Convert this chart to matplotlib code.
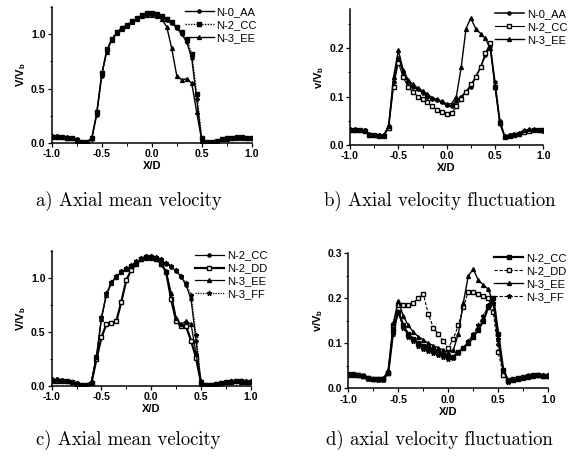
import matplotlib
matplotlib.use('Agg')
import matplotlib.pyplot as plt
from matplotlib.ticker import MultipleLocator, FormatStrFormatter

# X/D grid of the measurements
xd = [-1.0, -0.95, -0.9, -0.85, -0.8, -0.75, -0.7, -0.65, -0.6, -0.55, -0.5,
      -0.45, -0.4, -0.35, -0.3, -0.25, -0.2, -0.15, -0.1, -0.05, 0.0,
      0.05, 0.1, 0.15, 0.2, 0.25, 0.3, 0.35, 0.4, 0.45, 0.5,
      0.55, 0.6, 0.65, 0.7, 0.75, 0.8, 0.85, 0.9, 0.95, 1.0]

# a) axial mean velocity
a_AA = [0.06, 0.06, 0.055, 0.05, 0.045, 0.03, 0.01, 0.01, 0.03, 0.26, 0.62,
        0.85, 0.95, 1.01, 1.05, 1.08, 1.11, 1.14, 1.17, 1.19, 1.19,
        1.18, 1.16, 1.13, 1.10, 1.06, 1.00, 0.93, 0.78, 0.40, 0.02,
        0.01, 0.01, 0.02, 0.03, 0.04, 0.045, 0.045, 0.045, 0.04, 0.04]
a_CC = [0.05, 0.055, 0.05, 0.045, 0.04, 0.025, 0.01, 0.005, 0.04, 0.28, 0.64,
        0.86, 0.96, 1.02, 1.06, 1.09, 1.12, 1.15, 1.18, 1.20, 1.20,
        1.19, 1.17, 1.14, 1.11, 1.07, 1.02, 0.95, 0.82, 0.45, 0.04,
        0.01, 0.01, 0.02, 0.03, 0.04, 0.045, 0.05, 0.05, 0.045, 0.045]
a_EE = [0.06, 0.06, 0.05, 0.045, 0.04, 0.02, 0.01, 0.01, 0.04, 0.27, 0.63,
        0.84, 0.95, 1.01, 1.05, 1.08, 1.11, 1.14, 1.17, 1.18, 1.18,
        1.17, 1.14, 1.07, 0.87, 0.62, 0.58, 0.59, 0.55, 0.28, 0.02,
        0.01, 0.01, 0.02, 0.03, 0.035, 0.04, 0.04, 0.04, 0.04, 0.04]

# b) axial velocity fluctuation
b_AA = [0.032, 0.032, 0.03, 0.03, 0.022, 0.02, 0.02, 0.02, 0.04, 0.13, 0.18,
        0.15, 0.13, 0.12, 0.115, 0.108, 0.10, 0.095, 0.092, 0.088, 0.082,
        0.08, 0.09, 0.10, 0.11, 0.12, 0.14, 0.16, 0.185, 0.205, 0.13,
        0.05, 0.018, 0.02, 0.02, 0.022, 0.028, 0.03, 0.03, 0.03, 0.028]
b_CC = [0.03, 0.03, 0.03, 0.028, 0.02, 0.02, 0.018, 0.018, 0.035, 0.12, 0.17,
        0.14, 0.12, 0.11, 0.10, 0.095, 0.088, 0.08, 0.072, 0.068, 0.064,
        0.065, 0.08, 0.095, 0.11, 0.125, 0.14, 0.16, 0.19, 0.21, 0.12,
        0.045, 0.016, 0.018, 0.02, 0.022, 0.026, 0.028, 0.03, 0.03, 0.03]
b_EE = [0.03, 0.03, 0.03, 0.03, 0.02, 0.02, 0.02, 0.02, 0.04, 0.14, 0.195,
        0.155, 0.135, 0.125, 0.118, 0.112, 0.105, 0.098, 0.094, 0.09, 0.085,
        0.085, 0.10, 0.16, 0.24, 0.262, 0.24, 0.23, 0.22, 0.20, 0.12,
        0.045, 0.018, 0.02, 0.022, 0.025, 0.03, 0.032, 0.032, 0.03, 0.03]

# c) axial mean velocity
c_CC = [0.06, 0.06, 0.055, 0.05, 0.04, 0.03, 0.01, 0.01, 0.04, 0.27, 0.63,
        0.85, 0.95, 1.01, 1.05, 1.08, 1.11, 1.14, 1.17, 1.19, 1.19,
        1.18, 1.16, 1.13, 1.10, 1.06, 1.01, 0.93, 0.80, 0.42, 0.02,
        0.01, 0.01, 0.02, 0.03, 0.04, 0.045, 0.045, 0.045, 0.04, 0.04]
c_DD = [0.05, 0.05, 0.05, 0.045, 0.04, 0.02, 0.01, 0.01, 0.03, 0.25, 0.45,
        0.57, 0.58, 0.60, 0.78, 0.98, 1.07, 1.13, 1.17, 1.19, 1.19,
        1.17, 1.13, 1.05, 0.80, 0.60, 0.55, 0.55, 0.42, 0.26, 0.03,
        0.01, 0.01, 0.02, 0.03, 0.04, 0.04, 0.045, 0.045, 0.04, 0.04]
c_EE = [0.06, 0.06, 0.055, 0.05, 0.04, 0.02, 0.01, 0.01, 0.04, 0.27, 0.62,
        0.84, 0.95, 1.01, 1.05, 1.08, 1.11, 1.14, 1.17, 1.18, 1.18,
        1.17, 1.13, 1.06, 0.86, 0.63, 0.57, 0.60, 0.57, 0.30, 0.02,
        0.01, 0.01, 0.02, 0.03, 0.04, 0.045, 0.045, 0.04, 0.04, 0.04]
c_FF = [0.05, 0.055, 0.05, 0.045, 0.04, 0.025, 0.01, 0.005, 0.04, 0.28, 0.64,
        0.86, 0.96, 1.02, 1.06, 1.09, 1.12, 1.15, 1.18, 1.20, 1.20,
        1.19, 1.17, 1.14, 1.11, 1.07, 1.02, 0.95, 0.84, 0.47, 0.05,
        0.01, 0.01, 0.02, 0.03, 0.04, 0.045, 0.05, 0.05, 0.045, 0.045]

# d) axial velocity fluctuation
d_CC = [0.032, 0.032, 0.03, 0.028, 0.022, 0.02, 0.02, 0.02, 0.035, 0.13, 0.17,
        0.14, 0.12, 0.11, 0.10, 0.095, 0.09, 0.085, 0.08, 0.075, 0.07,
        0.07, 0.08, 0.09, 0.10, 0.115, 0.13, 0.15, 0.18, 0.20, 0.12,
        0.04, 0.016, 0.018, 0.02, 0.022, 0.025, 0.028, 0.03, 0.028, 0.028]
d_DD = [0.03, 0.03, 0.03, 0.028, 0.022, 0.02, 0.02, 0.02, 0.035, 0.14, 0.185,
        0.185, 0.185, 0.19, 0.20, 0.21, 0.165, 0.135, 0.12, 0.105, 0.09,
        0.11, 0.14, 0.18, 0.215, 0.215, 0.21, 0.205, 0.20, 0.17, 0.08,
        0.03, 0.018, 0.02, 0.022, 0.025, 0.028, 0.03, 0.03, 0.028, 0.028]
d_EE = [0.032, 0.032, 0.03, 0.03, 0.022, 0.02, 0.02, 0.022, 0.04, 0.145, 0.195,
        0.16, 0.14, 0.125, 0.115, 0.108, 0.10, 0.095, 0.09, 0.085, 0.08,
        0.085, 0.12, 0.19, 0.25, 0.265, 0.24, 0.23, 0.22, 0.19, 0.10,
        0.04, 0.018, 0.02, 0.022, 0.025, 0.03, 0.03, 0.03, 0.03, 0.03]
d_FF = [0.03, 0.03, 0.03, 0.028, 0.02, 0.02, 0.018, 0.018, 0.035, 0.12, 0.17,
        0.135, 0.115, 0.105, 0.095, 0.088, 0.082, 0.078, 0.074, 0.07, 0.066,
        0.068, 0.078, 0.09, 0.105, 0.12, 0.14, 0.16, 0.185, 0.19, 0.11,
        0.04, 0.015, 0.018, 0.02, 0.022, 0.025, 0.028, 0.03, 0.03, 0.03]

captions = ['a) Axial mean velocity', 'b) Axial velocity fluctuation',
            'c) Axial mean velocity', 'd) axial velocity fluctuation']

tickfont = {'family': 'Liberation Sans', 'weight': 'bold', 'size': 7.5}


def style_axes(ax, ymax, ymajor, yminor, yfmt, ylabel):
    for s in ['top', 'right']:
        ax.spines[s].set_visible(False)
    for s in ['left', 'bottom']:
        ax.spines[s].set_linewidth(1.1)
    ax.set_xlim(-1.0, 1.0)
    ax.set_ylim(0.0, ymax)
    ax.xaxis.set_major_locator(MultipleLocator(0.5))
    ax.xaxis.set_minor_locator(MultipleLocator(0.25))
    ax.yaxis.set_major_locator(MultipleLocator(ymajor))
    ax.yaxis.set_minor_locator(MultipleLocator(yminor))
    ax.xaxis.set_major_formatter(FormatStrFormatter('%.1f'))
    ax.yaxis.set_major_formatter(FormatStrFormatter(yfmt))
    ax.tick_params(which='major', direction='out', length=3, width=0.9, pad=1.5)
    ax.tick_params(which='minor', direction='out', length=1.8, width=0.7)
    for lab in ax.get_xticklabels() + ax.get_yticklabels():
        lab.set_fontproperties(tickfont)
    ax.set_xlabel('X/D', fontfamily='Liberation Sans', fontweight='bold',
                  fontsize=8, labelpad=1.5)
    ax.set_ylabel(ylabel, fontfamily='Liberation Sans', fontweight='bold',
                  fontsize=8, labelpad=2)


def add_legend(ax, x0):
    ax.legend(loc='upper left', bbox_to_anchor=(x0, 1.0), borderaxespad=0,
              frameon=False, handlelength=2.6, handletextpad=0.25,
              labelspacing=0.25, borderpad=0,
              prop={'family': 'Liberation Sans', 'size': 8})


fig = plt.figure(figsize=(5.72, 4.57), dpi=100)

axa = fig.add_axes([0.0904, 0.6877, 0.3497, 0.2965])
axb = fig.add_axes([0.6119, 0.6827, 0.3380, 0.2970])
axc = fig.add_axes([0.0904, 0.1554, 0.3480, 0.2962])
axd = fig.add_axes([0.6089, 0.1503, 0.3497, 0.2954])

k = 'black'
ms = 2.3

# a
axa.plot(xd, a_AA, color=k, lw=1.0, marker='o', ms=ms, label='N-0_AA')
axa.plot(xd, a_CC, color=k, lw=1.0, ls=(0, (1, 1)), marker='s', ms=ms, label='N-2_CC')
axa.plot(xd, a_EE, color=k, lw=1.0, marker='^', ms=ms + 0.5, label='N-3_EE')
style_axes(axa, 1.25, 0.5, 0.25, '%.1f', 'V/V$_\\mathregular{b}$')
add_legend(axa, 0.665)

# b
axb.plot(xd, b_AA, color=k, lw=1.1, marker='o', ms=ms, label='N-0_AA')
axb.plot(xd, b_CC, color=k, lw=0.8, marker='s', ms=ms, mfc='white', label='N-2_CC')
axb.plot(xd, b_EE, color=k, lw=1.0, marker='^', ms=ms + 0.5, label='N-3_EE')
style_axes(axb, 0.28, 0.1, 0.05, '%.1f', 'v/V$_\\mathregular{b}$')
add_legend(axb, 0.75)

# c
axc.plot(xd, c_CC, color=k, lw=0.9, marker='o', ms=ms, label='N-2_CC')
axc.plot(xd, c_DD, color=k, lw=1.6, marker='s', ms=ms, mfc='white', label='N-2_DD')
axc.plot(xd, c_EE, color=k, lw=0.9, marker='^', ms=ms + 0.5, label='N-3_EE')
axc.plot(xd, c_FF, color=k, lw=0.9, ls=(0, (1, 1)), marker='*', ms=ms + 1.2, label='N-3_FF')
style_axes(axc, 1.25, 0.5, 0.25, '%.1f', 'V/V$_\\mathregular{b}$')
add_legend(axc, 0.72)

# d
axd.plot(xd, d_CC, color=k, lw=1.6, marker='s', ms=ms, label='N-2_CC')
axd.plot(xd, d_DD, color=k, lw=0.8, ls=(0, (3, 1.5)), marker='s', ms=ms, mfc='white', label='N-2_DD')
axd.plot(xd, d_EE, color=k, lw=1.0, marker='^', ms=ms + 0.5, label='N-3_EE')
axd.plot(xd, d_FF, color=k, lw=0.8, ls=(0, (3, 1.5)), marker='*', ms=ms + 1.2, label='N-3_FF')
style_axes(axd, 0.3, 0.1, 0.05, '%.1f', 'v/V$_\\mathregular{b}$')
add_legend(axd, 0.73)

# captions under each panel
cap_pos = [(0.225, 0.560), (0.768, 0.560), (0.225, 0.037), (0.768, 0.037)]
for (cx, cy), txt in zip(cap_pos, captions):
    fig.text(cx, cy, txt, fontfamily='cmr10', fontsize=13.5, ha='center', va='center')

fig.savefig('out.png', dpi=100)
